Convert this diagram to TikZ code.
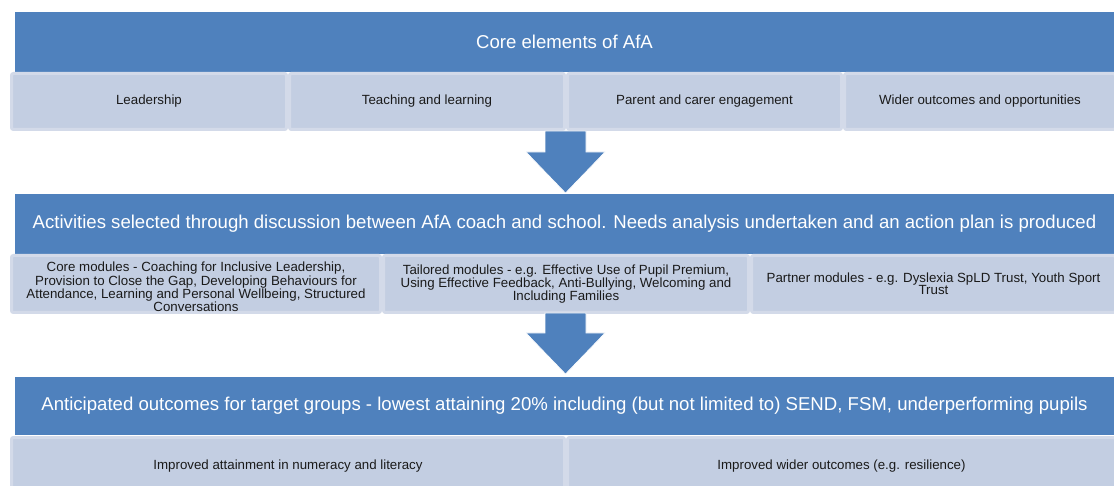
\documentclass[tikz,border=0pt]{standalone}
\usepackage{fontspec}
\setmainfont{Liberation Sans}
\usetikzlibrary{calc}
\definecolor{bannerblue}{HTML}{4F81BD}
\definecolor{subfill}{HTML}{C3CEE2}
\definecolor{subedge}{HTML}{D3DAE9}
\definecolor{subtext}{HTML}{1A1A1A}
\tikzset{
  banner/.style={fill=bannerblue, text=white, font=\fontsize{18.6}{20}\selectfont,
    inner sep=0pt, minimum width=1099pt, anchor=center},
  subbox/.style={fill=subfill, draw=subedge, line width=3pt, rounded corners=2pt,
    inner sep=0pt, align=center, text=subtext,
    font=\fontsize{13.3}{12.2}\selectfont, anchor=center},
  downarrow/.style={fill=bannerblue, draw=white, line width=0.6pt}
}
\begin{document}
\begin{tikzpicture}[x=1pt,y=-1pt]
\clip (0,0) rectangle (1114,486);
\fill[white] (0,0) rectangle (1114,486);

% Row 1
\node[banner, minimum height=60pt] (b1) at (564.5,42) {Core elements of AfA};
\node[subbox, minimum width=275pt, minimum height=56pt] (c1) at (149,101.5) {Leadership};
\node[subbox, minimum width=275pt, minimum height=56pt] (c2) at (427,101.5) {Teaching and learning};
\node[subbox, minimum width=274pt, minimum height=56pt] (c3) at (704.5,101.5) {Parent and carer engagement};
\node[subbox, minimum width=271pt, minimum height=56pt] (c4) at (980,101.5) {Wider outcomes and opportunities};

% Row 2
\node[banner, minimum height=60pt] (b2) at (564.5,224) {Activities selected through discussion between AfA coach and school. Needs analysis undertaken and an action plan is produced};
\node[subbox, minimum width=369pt, minimum height=57pt] (m1) at (196,284) {};
\node[text=subtext, font=\fontsize{13.3}{12.2}\selectfont, align=center, inner sep=0pt] (m1t) at ($(m1.center)+(0,3)$) {Core modules - Coaching for Inclusive Leadership,\\Provision to Close the Gap, Developing Behaviours for\\Attendance, Learning and Personal Wellbeing, Structured\\Conversations};
\node[subbox, minimum width=365pt, minimum height=57pt] (m2) at (566,284) {Tailored modules - e.g. Effective Use of Pupil Premium,\\Using Effective Feedback, Anti-Bullying, Welcoming and\\Including Families};
\node[subbox, minimum width=364pt, minimum height=57pt] (m3) at (933.5,284) {Partner modules - e.g. Dyslexia SpLD Trust, Youth Sport\\Trust};

% Row 3
\node[banner, minimum height=58pt] (b3) at (564.5,406) {Anticipated outcomes for target groups - lowest attaining 20\% including (but not limited to) SEND, FSM, underperforming pupils};
\node[subbox, minimum width=553pt, minimum height=57pt] (o1) at (288,466) {Improved attainment in numeracy and literacy};
\node[subbox, minimum width=548pt, minimum height=57pt] (o2) at (841.5,466) {Improved wider outcomes (e.g. resilience)};

% Arrows
\coordinate (a1s) at (565.5,131);
\coordinate (a1t) at (565.5,193);
\draw[downarrow] ($(a1s)+(-20.5,0)$) -- ($(a1s)+(20.5,0)$) -- ($(a1s)+(20.5,21)$) -- ($(a1s)+(39.5,21)$)
  -- (a1t) -- ($(a1s)+(-39.5,21)$) -- ($(a1s)+(-20.5,21)$) -- cycle;
\coordinate (a2s) at (565.5,313);
\coordinate (a2t) at (565.5,374);
\draw[downarrow] ($(a2s)+(-20.5,0)$) -- ($(a2s)+(20.5,0)$) -- ($(a2s)+(20.5,20)$) -- ($(a2s)+(39.5,20)$)
  -- (a2t) -- ($(a2s)+(-39.5,20)$) -- ($(a2s)+(-20.5,20)$) -- cycle;
\end{tikzpicture}
\end{document}
